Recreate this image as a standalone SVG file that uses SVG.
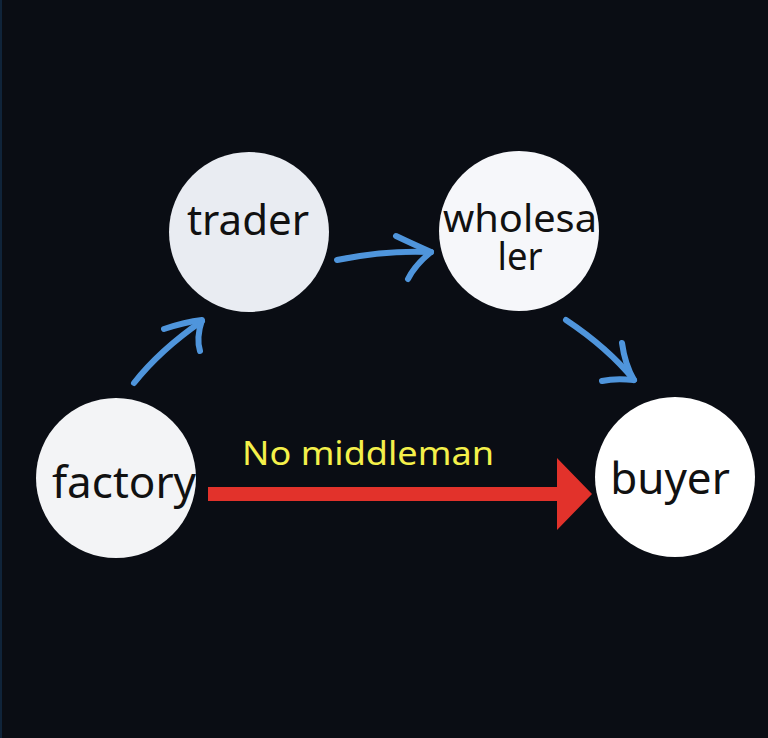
<svg xmlns="http://www.w3.org/2000/svg" width="768" height="738" viewBox="0 0 768 738">
<style>
.node text{font-family:"Noto Sans","DejaVu Sans",sans-serif;fill:#111;text-anchor:middle}
.blue{fill:none;stroke:#4f95dc;stroke-width:6;stroke-linecap:round;stroke-linejoin:round}
</style>
<rect width="768" height="738" fill="#0a0d14"/>
<rect x="0" y="0" width="2" height="738" fill="#10243a"/>
<g id="factory" class="node"><circle cx="116" cy="478" r="80" fill="#f3f4f6"/><text x="124" y="498" font-size="44">factory</text></g>
<g id="trader" class="node"><circle cx="249" cy="232" r="80" fill="#e9ecf2"/><text x="248" y="235" font-size="42">trader</text></g>
<g id="wholesaler" class="node"><circle cx="519" cy="231" r="80" fill="#f6f7fa"/><text x="520" y="232" font-size="38" textLength="154" lengthAdjust="spacingAndGlyphs">wholesa</text><text x="520" y="270" font-size="38" textLength="45" lengthAdjust="spacingAndGlyphs">ler</text></g>
<g id="buyer" class="node"><circle cx="675" cy="477" r="80" fill="#ffffff"/><text x="670" y="494" font-size="44">buyer</text></g>
<g id="connectors">
<path class="blue" d="M134 383 Q160 350 202 321"/>
<path class="blue" d="M164 329 Q185 322 202 320 Q196 338 200 351"/>
<path class="blue" d="M337 260 Q385 250 431 252"/>
<path class="blue" d="M396 236 Q415 245 431 252 Q415 265 408 279"/>
<path class="blue" d="M566 320 Q608 348 634 380"/>
<path class="blue" d="M622 343 Q625 365 634 380 Q615 378 602 381"/>
<polygon points="208,487 557,487 557,458 592,494 557,530 557,501 208,501" fill="#e2322b"/>
<text x="242" y="465" font-family="Noto Sans,DejaVu Sans,sans-serif" font-size="33" fill="#f4f04a" textLength="252" lengthAdjust="spacingAndGlyphs">No middleman</text>
</g>
</svg>
